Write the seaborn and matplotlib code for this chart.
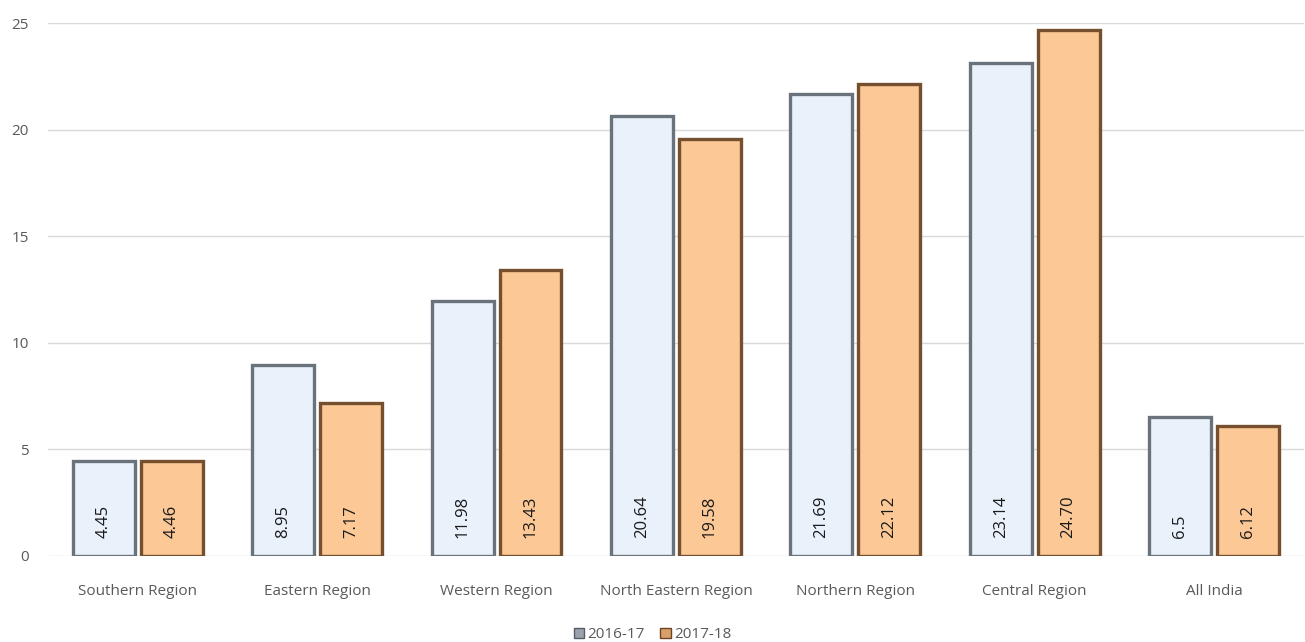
import matplotlib
matplotlib.use("Agg")
import matplotlib.pyplot as plt
import seaborn as sns
import pandas as pd
from matplotlib.patches import Patch

regions = ["Southern Region", "Eastern Region", "Western Region", "North Eastern Region",
           "Northern Region", "Central Region", "All India"]
vals_2016 = [4.45, 8.95, 11.98, 20.64, 21.69, 23.14, 6.5]
vals_2017 = [4.46, 7.17, 13.43, 19.58, 22.12, 24.70, 6.12]
labels_2016 = ["4.45", "8.95", "11.98", "20.64", "21.69", "23.14", "6.5"]
labels_2017 = ["4.46", "7.17", "13.43", "19.58", "22.12", "24.70", "6.12"]
years = ["2016-17", "2017-18"]

df = pd.DataFrame({
    "region": regions * 2,
    "value": vals_2016 + vals_2017,
    "year": [years[0]] * len(regions) + [years[1]] * len(regions),
})

sns.set_style("white")
plt.rcParams["font.family"] = ["Open Sans", "DejaVu Sans"]

fig = plt.figure(figsize=(13.05, 6.42), dpi=100)
ax = fig.add_axes([0.037, 0.134, 0.962, 0.830])

fills = {"2016-17": "#e9f1fb", "2017-18": "#fbc896"}
edges = {"2016-17": "#6a727c", "2017-18": "#76502e"}

sns.barplot(data=df, x="region", y="value", hue="year", order=regions, hue_order=years,
            palette=fills, saturation=1, width=0.756, gap=0.087, ax=ax, legend=False, zorder=3)

for cont, yr, labs in zip(ax.containers, years, [labels_2016, labels_2017]):
    for bar in cont:
        bar.set_edgecolor(edges[yr])
        bar.set_linewidth(2.4)
    ax.bar_label(cont, labels=labs, label_type="edge", rotation=90, padding=0,
                 fontsize=12, color="#1a1a1a")

# value labels sit at the bottom inside the bars
for t in ax.texts:
    x, y = t.xy
    t.xy = (x, 0)
    t.xyann = (0, 13)
    t.set_va("bottom")

ax.set_ylim(0, 25)
ax.set_xlim(-0.5, len(regions) - 0.5)
ax.set_yticks([0, 5, 10, 15, 20, 25])
ax.yaxis.grid(True, color="#d9d9d9", linewidth=1)
ax.set_axisbelow(True)
for s in ax.spines.values():
    s.set_visible(False)
ax.tick_params(axis="both", length=0, labelsize=11, labelcolor="#595959")
ax.tick_params(axis="x", pad=20)
ax.tick_params(axis="y", pad=14)
ax.set_xlabel("")
ax.set_ylabel("")

handles = [Patch(facecolor="#9aa3ad", edgecolor="#555d66"), Patch(facecolor="#d9a06a", edgecolor="#6e4524")]
fig.legend(handles, years, loc="lower center", bbox_to_anchor=(0.5, -0.022), ncol=2, frameon=False,
           fontsize=11, labelcolor="#595959", handlelength=0.7, handleheight=0.7,
           handletextpad=0.2, columnspacing=1.0)

fig.savefig("out.png", dpi=100)
